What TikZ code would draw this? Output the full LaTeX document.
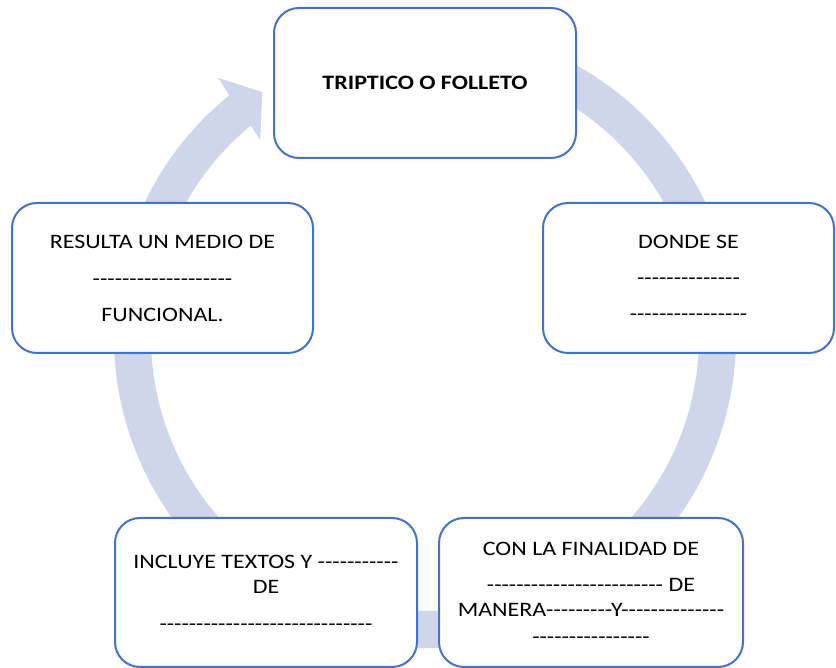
\documentclass[tikz,border=0pt]{standalone}
\usepackage{fontspec}
\setmainfont{Carlito}[Ligatures=TeXOff, FakeStretch=1.17]
\usepackage{xcolor}
\definecolor{cyink}{HTML}{000000}
\definecolor{cyblue}{HTML}{4472C4}
\definecolor{cyringfill}{HTML}{CFD5EA}
\usepackage{tikz}
\tikzset{
  cybox/.style ={rectangle, rounded corners=25pt, draw=cyblue, fill=white,
                 line width=2pt, minimum width=302pt, minimum height=150pt,
                 inner sep=0pt, align=center, text=cyink,
                 font=\fontsize{20.5}{25}\selectfont},
  cyhead/.style={cybox, font=\fontsize{20.5}{25}\selectfont\bfseries},
  cyarc/.style ={fill=cyringfill, draw=none},
}

\begin{document}
\begin{tikzpicture}[x=1pt, y=1pt]
  \useasboundingbox (0,0) rectangle (836,668);
  \coordinate (hub) at (425,331);
  % cycle ring, arrow head points at the top box
  \fill[cyarc, shift={(hub)}]
       (435:311) arc[start angle=435, end angle=129, radius=311]
       -- (128.6:331.6) -- (123.6:294) -- (129.9:257) -- (129.5:274)
       arc[start angle=129.5, end angle=435, radius=274] -- cycle;
  \node[cyhead] (folleto) at (425,585) {TRIPTICO O FOLLETO};
  \node[cybox, minimum width=291pt] (donde) at (688.5,390)
       {DONDE SE\\[11pt]
        --------------\\[11pt]
        ----------------};
  \node[cybox, minimum width=304pt, minimum height=149pt] (finalidad) at (591,75.5)
       {CON LA FINALIDAD DE\\[11pt]
        ------------------------ DE\\
        MANERA---------Y--------------\\[2pt]
        ----------------};
  \node[cybox, minimum height=149pt] (incluye) at (266,75.5)
       {INCLUYE TEXTOS Y -----------\\
        DE\\[12pt]
        -----------------------------};
  \node[cybox, minimum width=301pt] (medio) at (162.5,390)
       {RESULTA UN MEDIO DE\\[12pt]
        -------------------\\[11pt]
        FUNCIONAL.};
\end{tikzpicture}
\end{document}
